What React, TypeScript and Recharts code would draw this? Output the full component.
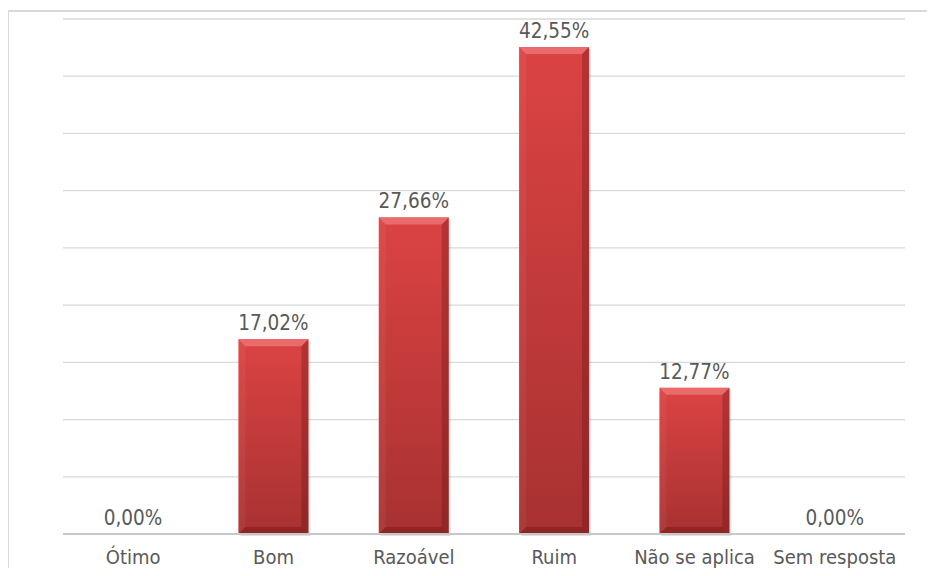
import React from 'react';
import { BarChart, Bar, XAxis, YAxis, CartesianGrid, LabelList } from 'recharts';

const categories = ['Ótimo', 'Bom', 'Razoável', 'Ruim', 'Não se aplica', 'Sem resposta'];
const percentages = [0, 17.02, 27.66, 42.55, 12.77, 0];
const yTicks = [0, 5, 10, 15, 20, 25, 30, 35, 40, 45];

const data = categories.map((name, i) => ({ name, value: percentages[i] }));

const FONT = '"DejaVu Sans Condensed", "Liberation Sans Narrow", "Open Sans", sans-serif';

const formatPct = (v: any) => `${Number(v).toFixed(2).replace('.', ',')}%`;

// barra com efeito chanfrado, tipo Excel
const BevelBar = (props: any) => {
    const { x, y, width, height } = props;
    if (!height || height <= 0) return null;
    const b = Math.min(7, height / 2);
    return (
        <g>
            <rect x={x + 2} y={y + 2} width={width} height={height} fill="rgba(0,0,0,0.12)" />
            <rect x={x} y={y} width={width} height={height} fill="url(#barGrad)" />
            <polygon
                points={`${x},${y} ${x + width},${y} ${x + width - b},${y + b} ${x + b},${y + b}`}
                fill="#ea6b6b"
            />
            <polygon
                points={`${x},${y} ${x + b},${y + b} ${x + b},${y + height - b} ${x},${y + height}`}
                fill="rgba(255,255,255,0.05)"
            />
            <polygon
                points={`${x + width},${y} ${x + width},${y + height} ${x + width - b},${y + height - b} ${x + width - b},${y + b}`}
                fill="rgba(90,10,10,0.28)"
            />
            <polygon
                points={`${x},${y + height} ${x + width},${y + height} ${x + width - b},${y + height - b} ${x + b},${y + height - b}`}
                fill="rgba(90,10,10,0.3)"
            />
        </g>
    );
};

export default function App() {
    // a div fica dentro da margem de 8px do body; o gráfico é deslocado para o canto da página
    return (
        <div style={{ position: 'relative', width: 919, height: 568, marginBottom: -8 }}>
            <div
                style={{
                    position: 'absolute',
                    left: -1,
                    top: 2,
                    width: 930,
                    height: 570,
                    borderTop: '2px solid #d9d9d9',
                    borderLeft: '2px solid #d9d9d9',
                    boxSizing: 'border-box',
                }}
            />
            <BarChart
                width={935}
                height={576}
                data={data}
                margin={{ top: 19, right: 30, left: 63, bottom: 0 }}
                barCategoryGap="25%"
                style={{ position: 'absolute', left: -8, top: -8 }}
            >
                <defs>
                    <linearGradient id="barGrad" x1="0" y1="0" x2="0" y2="1">
                        <stop offset="0%" stopColor="#dc4343" />
                        <stop offset="100%" stopColor="#a83131" />
                    </linearGradient>
                </defs>
                <CartesianGrid horizontal vertical={false} stroke="#d9d9d9" strokeWidth={1.3} />
                <XAxis
                    dataKey="name"
                    height={42}
                    tickLine={false}
                    axisLine={{ stroke: '#c8c8c8', strokeWidth: 2 }}
                    interval={0}
                    tick={{ fontSize: 20, fill: '#595959', fontFamily: FONT }}
                    tickMargin={10}
                />
                <YAxis hide domain={[0, 45]} ticks={yTicks} />
                <Bar dataKey="value" shape={<BevelBar />} isAnimationActive={false}>
                    <LabelList
                        dataKey="value"
                        position="top"
                        offset={9}
                        formatter={formatPct}
                        style={{ fontSize: 20.5, fill: '#595959', fontFamily: FONT }}
                    />
                </Bar>
            </BarChart>
        </div>
    );
}
